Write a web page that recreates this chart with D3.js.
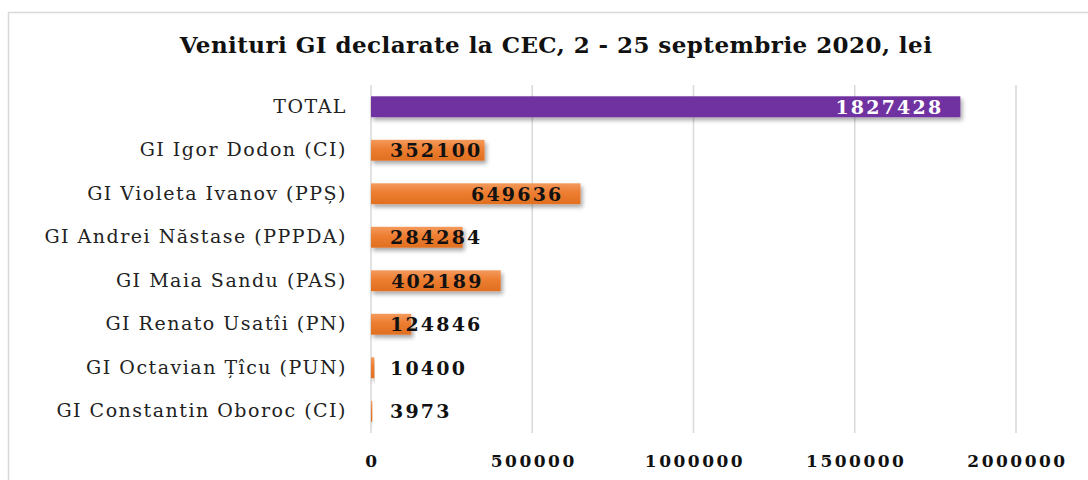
<!DOCTYPE html>
<html>
<head>
<meta charset="utf-8">
<script src="https://cdn.jsdelivr.net/npm/d3@7"></script>
<style>
  body { margin: 0; background: #fff; }
</style>
</head>
<body>
<div id="chart"></div>
<script>
var width = 1088;
var height = 480;

var categories = [
  "TOTAL",
  "GI Igor Dodon (CI)",
  "GI Violeta Ivanov (PPȘ)",
  "GI Andrei Năstase  (PPPDA)",
  "GI Maia Sandu (PAS)",
  "GI Renato Usatîi (PN)",
  "GI Octavian Țîcu (PUN)",
  "GI Constantin Oboroc (CI)"
];
var values = [1827428, 352100, 649636, 284284, 402189, 124846, 10400, 3973];
var tickValues = [0, 500000, 1000000, 1500000, 2000000];

var margin = {left: 371, right: 72, top: 85, bottom: 47};

var svg = d3.select("#chart")
  .append("svg")
  .attr("width", width)
  .attr("height", height);

var defs = svg.append("defs");

var grad = defs.append("linearGradient")
  .attr("id", "orangeGrad")
  .attr("x1", 0).attr("y1", 0).attr("x2", 0).attr("y2", 1);
grad.append("stop").attr("offset", "0%").attr("stop-color", "#f39a5c");
grad.append("stop").attr("offset", "45%").attr("stop-color", "#ed7d31");
grad.append("stop").attr("offset", "100%").attr("stop-color", "#e0701f");

var shadow = defs.append("filter")
  .attr("id", "shadow")
  .attr("x", "-5%").attr("y", "-30%").attr("width", "115%").attr("height", "180%");
shadow.append("feDropShadow")
  .attr("dx", 2).attr("dy", 3).attr("stdDeviation", 2)
  .attr("flood-color", "#000").attr("flood-opacity", 0.35);

// outer frame
svg.append("rect")
  .attr("x", 8.5).attr("y", 12.5)
  .attr("width", width + 20).attr("height", height + 20)
  .attr("fill", "none")
  .attr("stroke", "#d9d9d9")
  .attr("stroke-width", 1.5);

svg.append("text")
  .attr("x", 556)
  .attr("y", 53)
  .attr("text-anchor", "middle")
  .style("font-family", "DejaVu Serif")
  .style("font-weight", "bold")
  .style("font-size", "23px")
  .style("letter-spacing", "0.45px")
  .attr("fill", "#111")
  .text("Venituri GI declarate la CEC, 2 - 25 septembrie 2020, lei");

var x = d3.scaleLinear()
  .domain([0, 2000000])
  .range([margin.left, width - margin.right]);

var y = d3.scaleBand()
  .domain(categories)
  .range([margin.top, height - margin.bottom])
  .paddingInner(0.52)
  .paddingOuter(0.26);

// gridlines
svg.append("g")
  .selectAll("line")
  .data(tickValues)
  .enter()
  .append("line")
  .attr("x1", function (d) { return x(d); })
  .attr("x2", function (d) { return x(d); })
  .attr("y1", margin.top)
  .attr("y2", height - margin.bottom)
  .attr("stroke", "#d9d9d9")
  .attr("stroke-width", 1.5);

// x axis
var xAxis = svg.append("g")
  .attr("transform", "translate(0," + (height - margin.bottom) + ")")
  .call(d3.axisBottom(x).tickValues(tickValues).tickSize(0).tickPadding(22).tickFormat(d3.format("d")));
xAxis.select(".domain").remove();
xAxis.selectAll("text")
  .style("font-family", "DejaVu Serif")
  .style("font-weight", "bold")
  .style("font-size", "17px")
  .style("letter-spacing", "2.5px")
  .attr("dx", "1px")
  .attr("fill", "#111");

// y axis
var yAxis = svg.append("g")
  .attr("transform", "translate(" + margin.left + ",0)")
  .call(d3.axisLeft(y).tickSize(0).tickPadding(24));
yAxis.select(".domain").remove();
yAxis.selectAll("text")
  .style("font-family", "DejaVu Serif")
  .style("font-size", "19px")
  .style("letter-spacing", "1.5px")
  .attr("fill", "#222");

// bars
svg.append("g")
  .selectAll("rect")
  .data(values)
  .enter()
  .append("rect")
  .attr("x", x(0))
  .attr("y", function (d, i) { return y(categories[i]); })
  .attr("width", function (d) { return x(d) - x(0); })
  .attr("height", y.bandwidth())
  .attr("fill", function (d, i) { return i == 0 ? "#7030a0" : "url(#orangeGrad)"; })
  .attr("filter", "url(#shadow)");

// value labels
var labels = svg.append("g")
  .selectAll("text")
  .data(values)
  .enter()
  .append("text")
  .attr("y", function (d, i) { return y(categories[i]) + y.bandwidth() / 2; })
  .attr("dy", "0.36em")
  .style("font-family", "DejaVu Serif")
  .style("font-weight", "bold")
  .style("font-size", "19px")
  .style("letter-spacing", "2.2px")
  .attr("fill", function (d, i) { return i == 0 ? "#fff" : "#111"; })
  .text(function (d) { return d; });

labels.attr("x", function (d) {
  var w = this.getComputedTextLength();
  return Math.max(x(0) + 19, x(d) - 17 - w);
});
</script>
</body>
</html>
